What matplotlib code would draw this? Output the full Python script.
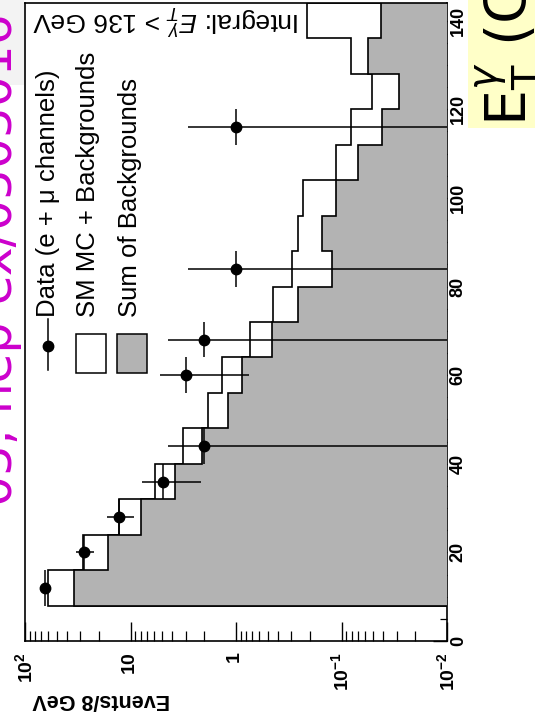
import numpy as np
import matplotlib.pyplot as plt
from matplotlib.patches import Rectangle
from matplotlib.ticker import FixedLocator, FixedFormatter, MultipleLocator

plt.rcParams['font.family'] = ['Liberation Sans', 'DejaVu Sans']
plt.rcParams['mathtext.fontset'] = 'custom'
plt.rcParams['mathtext.rm'] = 'Liberation Sans'
plt.rcParams['mathtext.it'] = 'Liberation Sans:italic'
plt.rcParams['mathtext.bf'] = 'Liberation Sans:bold'

# E_T^gamma bin edges (GeV), 8 GeV bins; last bin is the integral above 136 GeV
et_edges = [8, 16, 24, 32, 40, 48, 56, 64, 72, 80, 88, 96, 104, 112, 120, 128, 136, 144]
# events / 8 GeV
sm_plus_bkg = [60.1, 28.0, 12.9, 5.87, 3.2, 1.85, 1.35, 0.736, 0.449, 0.296,
               0.260, 0.230, 0.113, 0.0818, 0.0511, 0.0813, 0.211]
sum_bkg = [34.1, 16.4, 8.0, 3.78, 2.08, 1.18, 0.883, 0.459, 0.260, 0.122,
           0.152, 0.113, 0.0703, 0.0416, 0.0283, 0.0565, 0.0423]

data_et = [12, 20, 28, 36, 44, 60, 68, 84, 116]
data_val = [64.6, 27.6, 12.9, 4.95, 2.0, 3.0, 2.0, 1.0, 1.0]
data_err = [8.0, 5.5, 3.7, 2.8, 2.4, 2.25, 2.4, 1.83, 1.83]
data_half_bin = 4

log_ticks = [100, 10, 1, 0.1, 0.01]
log_labels = [r'$\mathbf{10^{2}}$', r'$\mathbf{10}$', r'$\mathbf{1}$',
              r'$\mathbf{10^{-1}}$', r'$\mathbf{10^{-2}}$']

W, H = 535, 720
fig = plt.figure(figsize=(W / 100, H / 100), dpi=100)
fig.patch.set_facecolor('white')

# faint slide background at the top-left corner
fig.patches.append(Rectangle((0, 1 - 85 / H), 24 / W, 85 / H, transform=fig.transFigure,
                             facecolor='#f3f3f3', edgecolor='none', zorder=0))

ax = fig.add_axes([25 / W, 1 - 641 / H, 422 / W, 638 / H])
ax.set_xscale('log')
ax.set_xlim(100, 0.01)
ax.set_ylim(0, 144)

# histograms drawn rotated: values along x (log), E_T along y
ax.stairs(sm_plus_bkg, et_edges, orientation='horizontal', baseline=1e-4, fill=True,
          facecolor='white', edgecolor='black', linewidth=1.2, zorder=2)
ax.stairs(sum_bkg, et_edges, orientation='horizontal', baseline=1e-4, fill=True,
          facecolor='#b3b3b3', edgecolor='black', linewidth=1.2, zorder=3)

vals = np.array(data_val)
errs = np.array(data_err)
lo = np.minimum(errs, vals * 0.99999)
ax.errorbar(vals, data_et, xerr=[lo, errs], yerr=data_half_bin, fmt='o', color='black',
            ms=7.5, capsize=0, elinewidth=1.1, zorder=5)

# axis styling
for side in ['left', 'right', 'top', 'bottom']:
    ax.spines[side].set_linewidth(1.2)
ax.xaxis.set_major_locator(FixedLocator(log_ticks))
ax.xaxis.set_major_formatter(FixedFormatter(log_labels))
ax.tick_params(axis='x', which='major', direction='in', length=14, width=1.0,
               labelsize=14, labelrotation=90, pad=8, top=False)
ax.tick_params(axis='x', which='minor', direction='in', length=7, width=0.9, top=False)
ax.xaxis.set_minor_formatter(FixedFormatter([]))

ax.yaxis.tick_right()
ax.yaxis.set_major_locator(MultipleLocator(20))
ax.yaxis.set_minor_locator(MultipleLocator(5))
ax.tick_params(axis='y', which='major', direction='in', length=10, width=1.0,
               labelsize=13, labelrotation=90, pad=2, left=False)
ax.tick_params(axis='y', which='minor', direction='in', length=5, width=0.9, left=False)
for lbl in ax.get_yticklabels():
    lbl.set_fontweight('bold')
    lbl.set_va('center')

# legend (rotated)
tr = ax.transAxes
ax.plot([0.0538, 0.0538], [0.425, 0.505], color='black', lw=1.1, transform=tr, zorder=6)
ax.plot([0.0538], [0.4625], 'o', color='black', ms=7.5, transform=tr, zorder=6)
ax.add_patch(Rectangle((0.1201, 0.4201), 0.0718, 0.0611, transform=tr,
                       facecolor='white', edgecolor='black', lw=1.1, zorder=6))
ax.add_patch(Rectangle((0.218, 0.4201), 0.0718, 0.0611, transform=tr,
                       facecolor='#b3b3b3', edgecolor='black', lw=1.1, zorder=6))
legend_txt = ['Data (e + \u03bc channels)', 'SM MC + Backgrounds', 'Sum of Backgrounds']
for xx, s in zip([0.0538, 0.1493, 0.2488], legend_txt):
    ax.text(xx, 0.508, s, rotation=90, ha='center', va='bottom', fontsize=18.5,
            transform=tr, zorder=6)

ax.text(0.6517, 0.9734, r'Integral: $E_{T}^{\gamma}$ > 136 GeV', rotation=180,
        ha='right', va='center', fontsize=19, transform=tr, zorder=6)

fig.text(32 / W, 1 - 699 / H, 'Events/8 GeV', rotation=180, ha='left', va='center',
         fontsize=15.5, fontweight='bold')

# slide overlays: magenta reference text and yellow axis title box
fig.text(12 / W, 1 - 13 / H, '05, hep-ex/0505016', rotation=90, rotation_mode='anchor',
         ha='right', va='baseline', fontsize=35, color='#cc00cc', family='DejaVu Sans')
fig.patches.append(Rectangle((468 / W, 1 - 128 / H), 67 / W, 128 / H, transform=fig.transFigure,
                             facecolor='#ffffc8', edgecolor='none', zorder=1))
fig.text(528 / W, 1 - 126 / H, r'$\mathrm{E}_{\mathrm{T}}^{\gamma}$ (GeV)', rotation=90,
         rotation_mode='anchor', ha='left', va='baseline', fontsize=41,
         family='DejaVu Sans', math_fontfamily='dejavusans', zorder=2)

fig.savefig('out.png', dpi=100)
